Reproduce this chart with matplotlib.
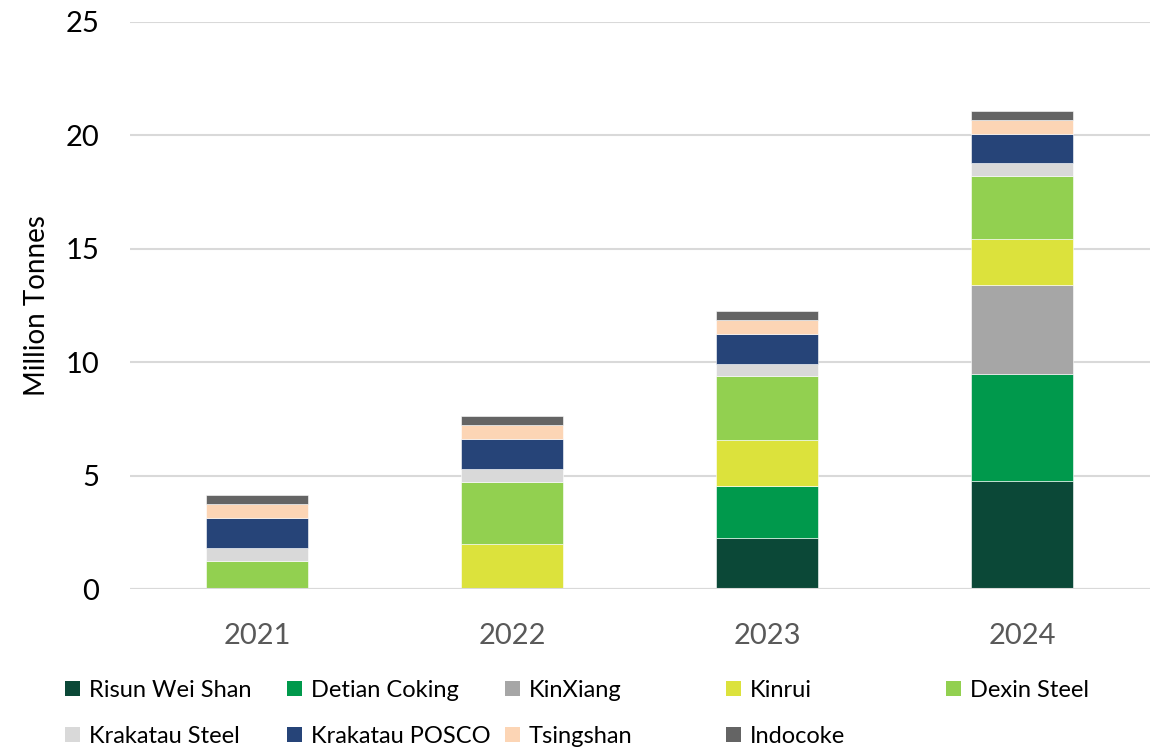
import numpy as np
import matplotlib
matplotlib.use("Agg")
import matplotlib.pyplot as plt
from matplotlib.patches import Patch

plt.rcParams['font.family'] = ['Lato', 'DejaVu Sans']

years = ["2021", "2022", "2023", "2024"]
names = ["Risun Wei Shan", "Detian Coking", "KinXiang", "Kinrui", "Dexin Steel",
         "Krakatau Steel", "Krakatau POSCO", "Tsingshan", "Indocoke"]
colors = ["#0B4837", "#00994C", "#A6A6A6", "#DCE23C", "#92D050",
          "#D9D9D9", "#264478", "#FCD5B5", "#646464"]

# million tonnes per producer, 2021..2024
risun     = [0.0, 0.0, 2.27, 4.78]
detian    = [0.0, 0.0, 2.29, 4.72]
kinxiang  = [0.0, 0.0, 0.0, 3.91]
kinrui    = [0.0, 1.98, 2.03, 2.00]
dexin     = [1.26, 2.75, 2.79, 2.78]
krak_st   = [0.57, 0.58, 0.56, 0.57]
krak_pos  = [1.30, 1.31, 1.29, 1.29]
tsingshan = [0.61, 0.60, 0.62, 0.62]
indocoke  = [0.42, 0.42, 0.40, 0.40]

series = [risun, detian, kinxiang, kinrui, dexin, krak_st, krak_pos, tsingshan, indocoke]

fig = plt.figure(figsize=(11.58, 7.48), dpi=100)
ax = fig.add_axes([0.112, 0.212, 0.881, 0.759])

x = np.arange(len(years))
bottom = np.zeros(len(years))
for vals, c, n in zip(series, colors, names):
    ax.bar(x, vals, width=0.4, bottom=bottom, color=c, label=n,
           edgecolor="white", linewidth=0.4, zorder=3)
    bottom += np.array(vals)

ax.set_xlim(-0.5, 3.5)
ax.set_ylim(0, 25)
ax.set_yticks([0, 5, 10, 15, 20, 25])
ax.set_xticks(x)
ax.set_xticklabels(years)
ax.grid(axis="y", color="#D9D9D9", linewidth=1.5, zorder=0)
for s in ["top", "right", "left", "bottom"]:
    ax.spines[s].set_visible(False)
ax.axhline(0, color="#D9D9D9", linewidth=1.5, zorder=4)
ax.tick_params(axis="both", length=0)
ax.tick_params(axis="y", labelsize=21, pad=22, colors="black")
ax.tick_params(axis="x", labelsize=21, pad=24, labelcolor="#595959")
ax.set_ylabel("Million Tonnes", fontsize=20)
ax.yaxis.set_label_coords(-0.078, 0.5)

# legend: one legend per column to keep the even column spacing
col_x = [65, 287, 505, 726, 946]
for j in range(5):
    idx = [j, j + 5] if j + 5 < len(names) else [j]
    handles = [Patch(facecolor=colors[i], edgecolor="none") for i in idx]
    labels = [names[i] for i in idx]
    fig.legend(handles, labels, loc="upper left",
               bbox_to_anchor=(col_x[j] / 1158, 1 - 680 / 748),
               frameon=False, fontsize=17, handlelength=0.62, handleheight=0.62,
               handletextpad=0.38, labelspacing=1.05, borderpad=0, borderaxespad=0)

fig.savefig("out.png", dpi=100)
